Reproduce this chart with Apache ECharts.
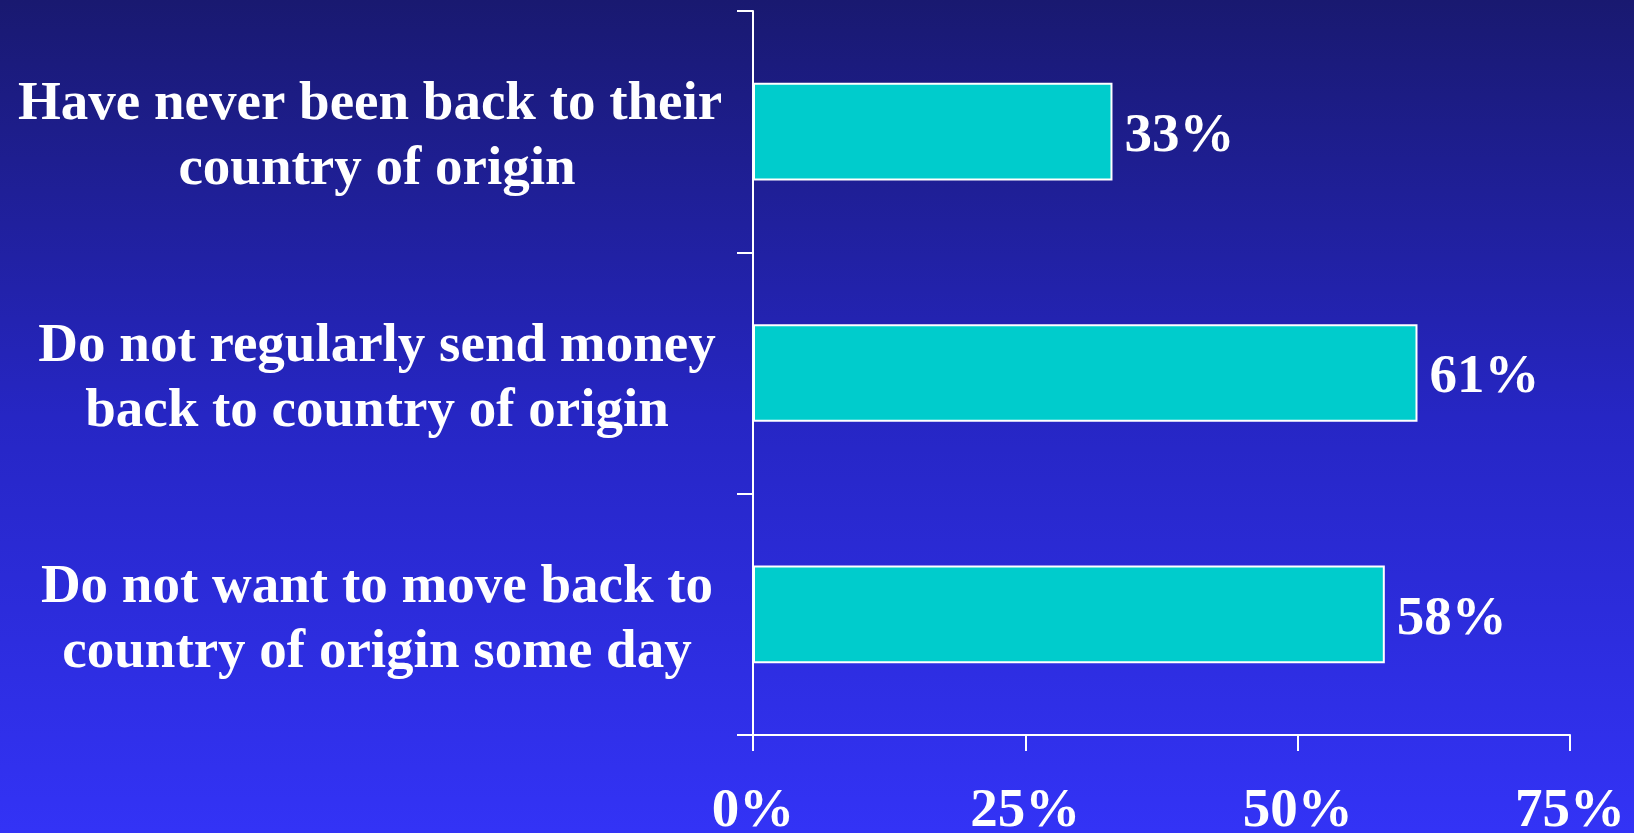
<!DOCTYPE html>
<html>
<head>
<meta charset="utf-8">
<script src="https://cdn.jsdelivr.net/npm/echarts@6/dist/echarts.min.js"></script>
<style>
html,body{margin:0;padding:0;width:1634px;height:833px;overflow:hidden;}
#chart{width:1634px;height:833px;}
</style>
</head>
<body>
<div id="chart"></div>
<script>
const categories = [
  "Have never been back to their \ncountry of origin",
  "Do not regularly send money\nback to country of origin",
  "Do not want to move back to\ncountry of origin some day"
];
const values = [33, 61, 58];
const xTicks = [0, 25, 50, 75];

const serif = '"Liberation Serif", "Times New Roman", serif';
const chart = echarts.init(document.getElementById('chart'));
chart.setOption({
  backgroundColor: {
    type: 'linear', x: 0, y: 0, x2: 0, y2: 1,
    colorStops: [
      { offset: 0, color: '#191970' },
      { offset: 0.5, color: '#2626c4' },
      { offset: 1, color: '#3333f6' }
    ]
  },
  animation: false,
  grid: { left: 753, top: 11, right: 64, bottom: 98, containLabel: false, outerBoundsMode: 'none' },
  xAxis: {
    type: 'value',
    min: xTicks[0],
    max: xTicks[xTicks.length - 1],
    interval: xTicks[1] - xTicks[0],
    axisLine: { show: true, lineStyle: { color: '#ffffff', width: 2 } },
    axisTick: { show: true, length: 16, lineStyle: { color: '#ffffff', width: 2 } },
    splitLine: { show: false },
    axisLabel: {
      formatter: '{value}%',
      color: '#ffffff',
      fontFamily: serif,
      fontWeight: 'bold',
      fontSize: 55,
      margin: 49,
      verticalAlign: 'top',
      lineHeight: 55
    }
  },
  yAxis: {
    type: 'category',
    data: categories,
    inverse: true,
    axisLine: { show: true, lineStyle: { color: '#ffffff', width: 2 } },
    axisTick: { show: true, length: 16, lineStyle: { color: '#ffffff', width: 2 } },
    splitLine: { show: false },
    axisLabel: {
      color: '#ffffff',
      fontFamily: serif,
      fontWeight: 'bold',
      fontSize: 55,
      lineHeight: 65,
      align: 'center',
      margin: 376,
      formatter: function (v) {
        return '{s| }\n' + v.split('\n').map(function (l) { return '{a|' + l + '}'; }).join('\n');
      },
      rich: {
        s: { fontSize: 4, lineHeight: 12 },
        a: { color: '#ffffff', fontFamily: serif, fontWeight: 'bold', fontSize: 55, lineHeight: 65 }
      }
    }
  },
  series: [{
    type: 'bar',
    data: values,
    barCategoryGap: '59.5%',
    itemStyle: { color: '#00cccc', borderColor: '#ffffff', borderWidth: 2 },
    label: {
      show: true,
      position: 'right',
      distance: 12,
      offset: [0, 5],
      formatter: '{c}%',
      color: '#ffffff',
      fontFamily: serif,
      fontWeight: 'bold',
      fontSize: 55
    }
  }]
});
</script>
</body>
</html>
